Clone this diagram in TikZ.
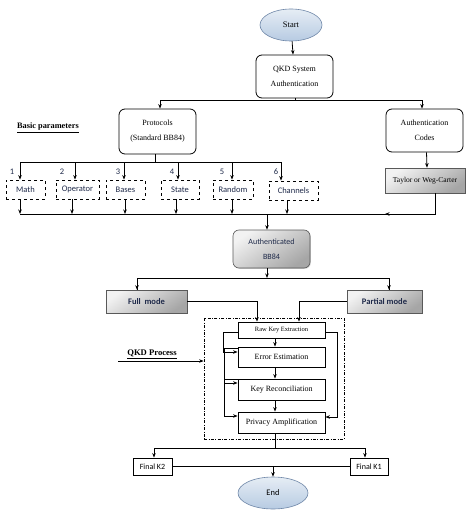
\documentclass[tikz,border=0pt]{standalone}
\usepackage{fontspec}
\setmainfont{Liberation Serif}
\newfontfamily\calfont{Carlito}
\usetikzlibrary{arrows.meta,shapes.geometric,shadows}
\definecolor{navy}{HTML}{1F2A4A}
\definecolor{ovalfill}{HTML}{B7CBE2}
\definecolor{ovaldraw}{HTML}{6F87A8}
\begin{document}
\begin{tikzpicture}[x=1pt,y=-1pt,
  ln/.style={line width=0.8pt},
  arr/.style={line width=0.8pt,-{Stealth[length=4.5pt,width=3.5pt]}},
  rbox/.style={draw,line width=0.8pt,rounded corners=6pt,inner sep=0pt,align=center,
    font=\fontsize{8}{15}\selectfont},
  dbox/.style={draw,dashed,line width=0.8pt,inner sep=0pt,text=navy,
    font=\calfont\fontsize{8.5}{9}\selectfont},
  gbox/.style={draw=gray!70!black,line width=0.6pt,inner sep=0pt,align=center,
    top color=gray!10,bottom color=gray!70,shading angle=35,
    drop shadow={shadow xshift=0.8pt,shadow yshift=-0.8pt,opacity=0.35}},
  pbox/.style={draw,line width=0.8pt,inner sep=0pt,font=\fontsize{8}{9}\selectfont},
  fbox/.style={draw,line width=0.8pt,inner sep=0pt,font=\calfont\fontsize{8}{9}\selectfont},
  oval/.style={ellipse,draw=ovaldraw,line width=0.6pt,inner sep=0pt,
    top color=ovalfill!35,bottom color=ovalfill,
    font=\fontsize{8.5}{10}\selectfont},
  num/.style={text=navy,font=\calfont\fontsize{8.5}{9}\selectfont,inner sep=0pt},
  lbl/.style={font=\bfseries\fontsize{8.3}{9}\selectfont,inner sep=0pt}
]
\useasboundingbox[fill=white] (0,0) rectangle (474,513);

% nodes
\node[oval,minimum width=62pt,minimum height=32pt] (start) at (291,25) {Start};
\node[rbox,minimum width=77pt,minimum height=43pt] (qkd) at (294.5,76.5) {QKD System\\Authentication};
\node[rbox,minimum width=77pt,minimum height=45pt] (proto) at (157.5,131.5) {Protocols\\(Standard BB84)};
\node[rbox,minimum width=77pt,minimum height=43pt] (auth) at (424.5,130.5) {Authentication\\Codes};
\node[lbl,anchor=west] (basic) at (17,128) {\underline{Basic parameters}};

\node[dbox,minimum width=39pt,minimum height=19pt] (b1) at (25.5,189.5) {Math};
\node[dbox,minimum width=43pt,minimum height=19pt] (b2) at (77.5,189.5) {Operator};
\node[dbox,minimum width=39pt,minimum height=19pt] (b3) at (125.5,189.5) {Bases};
\node[dbox,minimum width=38pt,minimum height=19pt] (b4) at (180,189.5) {State};
\node[dbox,minimum width=40pt,minimum height=19pt] (b5) at (233,189.5) {Random};
\node[dbox,minimum width=49pt,minimum height=19pt] (b6) at (293.5,190.5) {Channels};
\node[num] (n1) at (12,172) {1};
\node[num] (n2) at (62,172) {2};
\node[num] (n3) at (118,172) {3};
\node[num] (n4) at (172,172) {4};
\node[num] (n5) at (222,172) {5};
\node[num] (n6) at (276,172) {6};

\node[gbox,minimum width=80pt,minimum height=25pt,font=\fontsize{7.5}{9}\selectfont] (tay) at (425,180.5) {Taylor or Weg-Carter};
\node[gbox,rounded corners=6pt,minimum width=77pt,minimum height=38pt,text=navy,
  font=\calfont\fontsize{8}{15}\selectfont] (abb) at (271.5,249) {Authenticated\\BB84};
\node[gbox,minimum width=81pt,minimum height=23pt,text=navy,
  font=\calfont\bfseries\fontsize{8.5}{9}\selectfont] (full) at (146.5,301.5) {Full\ \ mode};
\node[gbox,minimum width=75pt,minimum height=23pt,text=navy,
  font=\calfont\bfseries\fontsize{8.5}{9}\selectfont] (part) at (384.5,301.5) {Partial mode};

\node[draw,line width=0.7pt,dash pattern=on 3pt off 1.5pt on 0.8pt off 1.5pt,
  minimum width=140pt,minimum height=121pt,inner sep=0pt] (proc) at (274,378.5) {};
\node[pbox,minimum width=87pt,minimum height=16pt,font=\fontsize{6.5}{8}\selectfont] (raw) at (281.5,330) {Raw Key Extraction};
\node[pbox,minimum width=87pt,minimum height=20pt] (err) at (281.5,357) {Error Estimation};
\node[pbox,minimum width=87pt,minimum height=21pt] (rec) at (281.5,389.5) {Key Reconciliation};
\node[pbox,minimum width=87pt,minimum height=21pt] (priv) at (281.5,422.5) {Privacy Amplification};
\node[lbl,anchor=south,font=\bfseries\fontsize{8.6}{9}\selectfont] (qlab) at (152,359) {\underline{QKD Process}};
\coordinate (qstart) at (118,361);

\node[fbox,minimum width=39pt,minimum height=17pt] (k2) at (152.5,466.5) {Final K2};
\node[fbox,minimum width=38pt,minimum height=17pt] (k1) at (369,466.5) {Final\ K1};
\node[oval,minimum width=70pt,minimum height=32pt,font=\calfont\fontsize{8.5}{10}\selectfont] (end) at (273,493) {End};

% coordinates for junctions
\coordinate (j1) at (295,100.5);
\coordinate (bar1) at (155,162);
\coordinate (bar2) at (267,214);
\coordinate (j3) at (267,278);
\coordinate (j4) at (275,448);
\coordinate (j5) at (273,467);

% connectors
\draw[arr] (start) -- (qkd);
\draw[ln] (qkd.south -| j1) -- (j1);
\draw[arr] (j1) -| ([xshift=2.5pt]proto.north);
\draw[arr] (j1) -| ([xshift=-2.5pt]auth.north);

\draw[ln] ([xshift=-2.5pt]proto.south) -- (bar1);
\draw[ln] ([xshift=-5.5pt]b1.north |- bar1) -- ([xshift=-12.5pt]b6.north |- bar1);
\draw[arr] ([xshift=-5.5pt]b1.north |- bar1) -- ([xshift=-5.5pt]b1.north);
\draw[arr] ([xshift=-2.5pt]b2.north |- bar1) -- ([xshift=-2.5pt]b2.north);
\draw[arr] ([xshift=-1.5pt]b3.north |- bar1) -- ([xshift=-1.5pt]b3.north);
\draw[arr] ([xshift=-2pt]b4.north |- bar1) -- ([xshift=-2pt]b4.north);
\draw[arr] ([xshift=-1pt]b5.north |- bar1) -- ([xshift=-1pt]b5.north);
\draw[arr] ([xshift=-12.5pt]b6.north |- bar1) -- ([xshift=-12.5pt]b6.north);

\draw[arr] ([xshift=-5.5pt]b1.south) -- ([xshift=-5.5pt]b1.south |- bar2);
\draw[arr] ([xshift=-5.5pt]b2.south) -- ([xshift=-5.5pt]b2.south |- bar2);
\draw[arr] ([xshift=-0.5pt]b3.south) -- ([xshift=-0.5pt]b3.south |- bar2);
\draw[arr] ([xshift=-4pt]b4.south) -- ([xshift=-4pt]b4.south |- bar2);
\draw[arr] ([xshift=-1pt]b5.south) -- ([xshift=-1pt]b5.south |- bar2);
\draw[arr] ([xshift=-6.5pt]b6.south) -- ([xshift=-6.5pt]b6.south |- bar2);

\draw[arr] ([xshift=2pt]auth.south) -- ([xshift=2pt]tay.north);
\draw[ln] ([xshift=10pt]tay.south) -- ([xshift=10pt]tay.south |- bar2) -- ([xshift=-5.5pt]b1.south |- bar2);
\draw[arr] ([xshift=10pt]tay.south |- bar2) -- ([xshift=-40pt]tay.south |- bar2);
\draw[arr] (bar2) -- (abb.north -| bar2);

\draw[arr] (abb.south -| j3) -- (j3);
\draw[ln] (j3) -| ([xshift=-9.5pt]full.north);
\draw[ln] (j3) -| ([xshift=4.5pt]part.north);
\draw[arr] ([yshift=-6pt]j3 -| full.north) ++(-9.5pt,0) -- ([xshift=-9.5pt]full.north);
\draw[arr] ([yshift=-6pt]j3 -| part.north) ++(4.5pt,0) -- ([xshift=4.5pt]part.north);

\draw[arr] (full.east) -| ([xshift=-24.5pt]raw.north);
\draw[arr] (part.west) -| ([xshift=17.5pt]raw.north);

\draw[arr] ([xshift=-6.5pt]raw.south) -- ([xshift=-6.5pt]err.north);
\draw[arr] ([xshift=-6.5pt]err.south) -- ([xshift=-6.5pt]rec.north);
\draw[arr] ([xshift=-6.5pt]rec.south) -- ([xshift=-6.5pt]priv.north);

\draw[arr] ([yshift=-2pt]raw.west) -| ([xshift=-14pt,yshift=5pt]err.west) -- ([yshift=5pt]err.west);
\draw[arr] ([yshift=9pt]err.west) -- ++(-13pt,0) |- ([yshift=6.5pt]rec.west);
\draw[arr] ([yshift=10.5pt]rec.west) -- ++(-13pt,0) |- ([yshift=6.5pt]priv.west);
\draw[arr] ([yshift=-2pt]raw.east) -- ++(12pt,0) |- ([yshift=5.5pt]priv.east);

\draw[arr] (qstart) -- (proc.west |- qstart);

\draw[ln] ([xshift=-6.5pt]priv.south) -- (j4);
\draw[arr] (j4) -| ([xshift=1.5pt]k2.north);
\draw[arr] (j4) -| ([xshift=-4pt]k1.north);
\draw[ln] (k2.east) -- (k1.west);
\draw[arr] (j5) -- (end.north);
\end{tikzpicture}
\end{document}
